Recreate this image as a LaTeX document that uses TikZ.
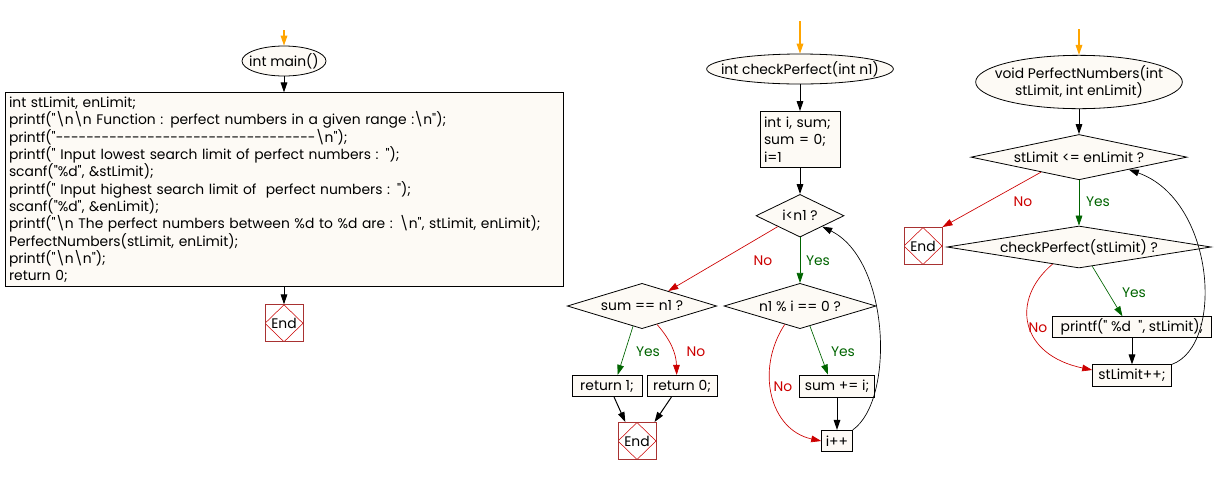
\documentclass[tikz,border=0pt]{standalone}
\usepackage{fontspec}
\setmainfont{Poppins}[Ligatures=TeXOff]
\usetikzlibrary{positioning,calc,shapes.geometric,arrows.meta}

\definecolor{paper}{HTML}{FDFAF5}
\definecolor{yesgreen}{HTML}{006400}
\definecolor{nored}{HTML}{CC0000}
\definecolor{startorange}{HTML}{FFA500}
\definecolor{endbrown}{HTML}{A83232}

\newcommand{\nowidth}[1]{\makebox[0pt]{#1}}
\newcommand{\escn}{\textbackslash n}

\tikzset{
  chart/.style  = {x=0.75pt, y=-0.75pt, font=\fontsize{10.4}{13}\selectfont},
  block/.style  = {draw, line width=0.7pt, fill=paper, inner xsep=3pt, inner ysep=1.5pt, align=left},
  term/.style   = {draw, ellipse, line width=0.6pt, fill=paper, inner sep=0pt, align=center},
  test/.style   = {draw, diamond, line width=0.6pt, fill=paper, inner sep=0pt},
  stop/.style   = {draw=endbrown, line width=0.7pt, fill=white, minimum width=28.5pt,
                   minimum height=27.75pt, inner sep=0pt,
                   path picture={\draw[nored, line width=0.4pt]
                     (path picture bounding box.north) -- (path picture bounding box.east)
                     -- (path picture bounding box.south) -- (path picture bounding box.west) -- cycle;}},
  flow/.style   = {line width=0.75pt, -{Triangle[length=7.5pt, width=5pt]}},
  yes/.style    = {flow, yesgreen, line width=0.5pt},
  no/.style     = {flow, nored, line width=0.5pt},
  inflow/.style = {flow, startorange, line width=0.9pt},
  yeslbl/.style = {text=yesgreen, inner sep=0pt},
  nolbl/.style  = {text=nored, inner sep=0pt},
}

\begin{document}
\begin{tikzpicture}[chart]
  \useasboundingbox (0,0) rectangle (1229,476);

  % main
  \coordinate (m-in) at (284,30);
  \node[term, minimum width=63pt, minimum height=22.5pt] (m0) at (284,61) {\nowidth{int main()}};
  \node[block, text width=412.5pt, minimum height=145.5pt, below=12pt of m0] (m1) {%
    int stLimit, enLimit;\\
    printf("\escn\escn\ Function : perfect numbers in a given range :\escn");\\
    printf("----------------------------------\escn");\\
    printf(" Input lowest search limit of perfect numbers : ");\\
    scanf("\%d", \&stLimit);\\
    printf(" Input highest search limit of\ \ perfect numbers : ");\\
    scanf("\%d", \&enLimit);\\
    printf("\escn\ The perfect numbers between \%d to \%d are : \escn", stLimit, enLimit);\\
    PerfectNumbers(stLimit, enLimit);\\
    printf("\escn\escn");\\
    return 0;};
  \node[stop, below=12.75pt of m1] (m2) {End};

  \draw[inflow] (m-in) -- (m0);
  \draw[flow] (m0) -- (m1);
  \draw[flow] (m1) -- (m2);

  % checkPerfect
  \coordinate (c-in) at (800,21);
  \node[term, minimum width=140pt, minimum height=22.5pt] (c0) at (800,69) {\nowidth{int checkPerfect(int n1)}};
  \node[block, text width=54pt, minimum height=42pt, below=20pt of c0] (c1) {int i, sum;\\ sum = 0;\\ i=1};
  \node[test, minimum width=66pt, minimum height=32pt, below=19.5pt of c1] (c2) {\nowidth{i<n1 ?}};
  \node[test, minimum width=112pt, minimum height=34pt] (c3) at (642,306) {\nowidth{sum == n1 ?}};
  \node[test, minimum width=114pt, minimum height=34pt] (c4) at (800,306) {\nowidth{n1 \% i == 0 ?}};
  \node[block, minimum width=52.5pt, minimum height=16pt] (c5) at (607,386) {return 1;};
  \node[block, minimum width=52.5pt, minimum height=16pt] (c6) at (682,386) {return 0;};
  \node[stop] (c7) at (637,441) {End};
  \node[block, minimum width=56pt, minimum height=16.5pt] (c8) at (837,386) {sum += i;};
  \node[block, minimum width=23pt, minimum height=16pt] (c9) at (837,441) {i++};

  \draw[inflow] (c-in) -- (c0);
  \draw[flow] (c0) -- (c1);
  \draw[flow] (c1) -- (c2);
  \draw[no] ($(c2.south)!0.5!(c2.west)$) -- ($(c3.north)!0.35!(c3.east)$);
  \draw[yes] (c2) -- (c4);
  \draw[yes] ($(c3.south)!0.12!(c3.west)$) -- ($(c5.north)!0.3!(c5.north east)$);
  \draw[no] ($(c3.south)!0.2!(c3.east)$) to[bend left=20] ($(c6.north)!0.15!(c6.north west)$);
  \draw[flow] ($(c5.south)!0.2!(c5.south east)$) -- ($(c7.north)!0.6!(c7.north west)$);
  \draw[flow] ($(c6.south)!0.3!(c6.south west)$) -- ($(c7.north)!0.9!(c7.north east)$);
  \draw[yes] ($(c4.south)!0.13!(c4.east)$) -- ($(c8.north)!0.24!(c8.north west)$);
  \draw[no] ($(c4.south)!0.2!(c4.west)$) .. controls (755,370) and (770,430) .. (c9.west);
  \draw[flow] (c8) -- (c9);
  \draw[flow, line width=0.5pt] (c9.north east) .. controls (895,400) and (890,260) .. ($(c2.south)!0.5!(c2.east)$);

  \node[nolbl] (c2no) at (763,261) {No};
  \node[yeslbl] (c2yes) at (818,261) {Yes};
  \node[yeslbl] (c3yes) at (648,352) {Yes};
  \node[nolbl] (c3no) at (696,352) {No};
  \node[yeslbl] (c4yes) at (843,352) {Yes};
  \node[nolbl] (c4no) at (783,387) {No};

  % PerfectNumbers
  \coordinate (p-in) at (1079,29);
  \node[term, minimum width=155pt, minimum height=40pt] (p0) at (1079,82)
    {\nowidth{void PerfectNumbers(int}\\ \nowidth{stLimit, int enLimit)}};
  \node[test, minimum width=162pt, minimum height=34pt, below=18.75pt of p0] (p1) {\nowidth{stLimit <= enLimit ?}};
  \node[stop] (p2) at (923,246) {End};
  \node[test, minimum width=198pt, minimum height=31.5pt] (p3) at (1079,247) {\nowidth{checkPerfect(stLimit) ?}};
  \node[block, minimum width=119pt, minimum height=15pt] (p4) at (1132,327) {printf(" \%d\ \ ", stLimit);};
  \node[block, minimum width=59pt, minimum height=16pt, below=20pt of p4] (p5) {stLimit++;};

  \draw[inflow] (p-in) -- (p0);
  \draw[flow] (p0) -- (p1);
  \draw[no] ($(p1.south)!0.35!(p1.west)$) -- (p2.north east);
  \draw[yes] (p1) -- (p3);
  \draw[yes] ($(p3.south)!0.1!(p3.east)$) -- ($(p4.north)!0.12!(p4.north west)$);
  \draw[no] ($(p3.south)!0.2!(p3.west)$) .. controls (1010,300) and (1020,355) .. ($(p5.west)!0.5!(p5.north west)$);
  \draw[flow] (p4) -- (p5);
  \draw[flow, line width=0.5pt] (p5.north east) .. controls (1225,345) and (1215,200) .. ($(p1.south)!0.46!(p1.east)$);

  \node[nolbl] (p1no) at (1023,202) {No};
  \node[yeslbl] (p1yes) at (1098,202) {Yes};
  \node[yeslbl] (p3yes) at (1134,293) {Yes};
  \node[nolbl] (p3no) at (1038,328) {No};
\end{tikzpicture}
\end{document}
